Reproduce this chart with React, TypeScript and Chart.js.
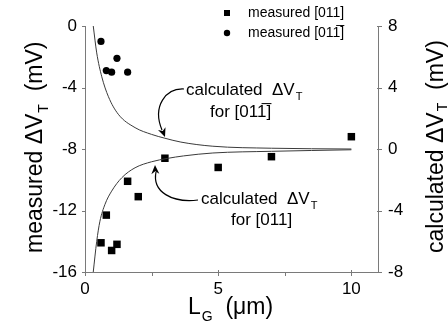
import React, { useEffect, useRef } from "react";
import { Chart, registerables } from "chart.js";

Chart.register(...registerables);

// measured [011] (left axis, mV)
const measured011X = [0.6, 0.8, 1.0, 1.2, 1.6, 2.0, 3.0, 5.0, 7.0, 10.0];
const measured011Y = [-14.1, -12.3, -14.6, -14.2, -10.1, -11.1, -8.6, -9.2, -8.5, -7.2];
// measured [01-1] (left axis, mV)
const measured01bX = [0.6, 0.8, 1.0, 1.2, 1.6];
const measured01bY = [-1.0, -2.9, -3.0, -2.1, -3.0];
// calculated [01-1] (right axis, mV)
const calcUpperX = [0.31, 0.44, 0.63, 0.88, 1.25, 1.88, 2.5, 3.0, 3.6, 4.8, 7.0, 10.0];
const calcUpperY = [8.0, 6.25, 4.7, 3.4, 2.26, 1.39, 0.95, 0.7, 0.45, 0.18, 0.05, 0.0];
// calculated [011] (right axis, mV)
const calcLowerX = [0.31, 0.44, 0.56, 0.75, 1.0, 1.38, 1.88, 2.5, 3.1, 3.7, 4.8, 7.0, 10.0];
const calcLowerY = [-8.0, -6.0, -4.7, -3.6, -2.74, -1.87, -1.22, -0.83, -0.61, -0.45, -0.26, -0.15, -0.05];

const xTicks = [0, 5, 10];
const xMinorTicks = [2.5, 7.5];
const leftTicks = [0, -4, -8, -12, -16];
const rightTicks = [8, 4, 0, -4, -8];

const legendLabels = ["measured [011]", "measured [011\u0305]"];

const FONT = '"Liberation Sans", Arial, Helvetica, sans-serif';
const AXIS_COLOR = "#7a7a7a";

const toPts = (xs: number[], ys: number[]) => xs.map((x, i) => ({ x, y: ys[i] }));

function arrowHead(ctx: CanvasRenderingContext2D, fx: number, fy: number, tx: number, ty: number) {
  const a = Math.atan2(ty - fy, tx - fx);
  const len = 9;
  const w = 4;
  ctx.beginPath();
  ctx.moveTo(tx, ty);
  ctx.lineTo(tx - len * Math.cos(a) + w * Math.sin(a), ty - len * Math.sin(a) - w * Math.cos(a));
  ctx.lineTo(tx - len * 0.7 * Math.cos(a), ty - len * 0.7 * Math.sin(a));
  ctx.lineTo(tx - len * Math.cos(a) - w * Math.sin(a), ty - len * Math.sin(a) + w * Math.cos(a));
  ctx.closePath();
  ctx.fill();
}

function drawSubText(
  ctx: CanvasRenderingContext2D,
  x: number,
  y: number,
  main: string,
  sub: string,
  rest: string,
  size: number,
  subSize: number,
  subDrop: number
) {
  ctx.font = `${size}px ${FONT}`;
  ctx.fillText(main, x, y);
  let cx = x + ctx.measureText(main).width;
  ctx.font = `${subSize}px ${FONT}`;
  ctx.fillText(sub, cx + 1, y + subDrop);
  cx += ctx.measureText(sub).width + 1;
  ctx.font = `${size}px ${FONT}`;
  ctx.fillText(rest, cx, y);
  return cx + ctx.measureText(rest).width;
}

const decorPlugin = {
  id: "decor",
  afterDraw(chart: any) {
    const ctx: CanvasRenderingContext2D = chart.ctx;
    const { left, right, top, bottom } = chart.chartArea;
    const sx = chart.scales.x;
    const sy = chart.scales.y;
    const sy2 = chart.scales.y2;
    ctx.save();

    ctx.strokeStyle = AXIS_COLOR;
    ctx.lineWidth = 1;
    ctx.beginPath();
    ctx.moveTo(left + 0.5, top);
    ctx.lineTo(left + 0.5, bottom + 0.5);
    ctx.lineTo(right + 0.5, bottom + 0.5);
    ctx.lineTo(right + 0.5, top);
    ctx.stroke();

    ctx.beginPath();
    leftTicks.forEach((v) => {
      const py = Math.round(sy.getPixelForValue(v)) + 0.5;
      ctx.moveTo(left - 3, py);
      ctx.lineTo(left + 0.5, py);
    });
    rightTicks.forEach((v) => {
      const py = Math.round(sy2.getPixelForValue(v)) + 0.5;
      ctx.moveTo(right - 1, py);
      ctx.lineTo(right + 4, py);
    });
    xTicks.forEach((v) => {
      const px = Math.round(sx.getPixelForValue(v)) + 0.5;
      ctx.moveTo(px, bottom - 2);
      ctx.lineTo(px, bottom + 4);
    });
    xMinorTicks.forEach((v) => {
      const px = Math.round(sx.getPixelForValue(v)) + 0.5;
      ctx.moveTo(px, bottom + 1);
      ctx.lineTo(px, bottom + 4);
    });
    ctx.stroke();

    ctx.fillStyle = "#000";
    ctx.font = `17px ${FONT}`;
    ctx.textBaseline = "middle";
    ctx.textAlign = "right";
    leftTicks.forEach((v) => ctx.fillText(String(v), left - 8, sy.getPixelForValue(v)));
    ctx.textAlign = "left";
    rightTicks.forEach((v) => ctx.fillText(String(v), right + 10, sy2.getPixelForValue(v)));
    ctx.textAlign = "center";
    ctx.textBaseline = "top";
    xTicks.forEach((v) => ctx.fillText(String(v), sx.getPixelForValue(v), bottom + 9));

    ctx.textAlign = "left";
    ctx.textBaseline = "alphabetic";
    drawSubText(ctx, 188, 314, "L", "G", "  (\u03bcm)", 23, 14, 7);

    ctx.save();
    ctx.translate(42, 253);
    ctx.rotate(-Math.PI / 2);
    drawSubText(ctx, 0, 0, "measured \u0394V", "T", "  (mV)", 23, 14, 6);
    ctx.restore();

    ctx.save();
    ctx.translate(443, 253);
    ctx.rotate(-Math.PI / 2);
    drawSubText(ctx, 0, 0, "calculated \u0394V", "T", "  (mV)", 23, 14, 4);
    ctx.restore();

    ctx.fillStyle = "#000";
    ctx.fillRect(224, 10, 6, 6);
    ctx.beginPath();
    ctx.arc(227, 33, 3.2, 0, Math.PI * 2);
    ctx.fill();
    ctx.font = `14px ${FONT}`;
    ctx.textBaseline = "middle";
    ctx.fillText(legendLabels[0], 248, 13);
    ctx.fillText(legendLabels[1], 248, 33);

    ctx.textBaseline = "alphabetic";
    drawSubText(ctx, 186, 95, "calculated  \u0394V", "T", "", 17, 11, 5);
    ctx.font = `17px ${FONT}`;
    ctx.fillText("for [011\u0305]", 210, 117);

    drawSubText(ctx, 201, 204, "calculated  \u0394V", "T", "", 17, 11, 5);
    ctx.font = `17px ${FONT}`;
    ctx.fillText("for [011]", 231, 225);

    ctx.strokeStyle = "#000";
    ctx.lineWidth = 1.2;
    ctx.beginPath();
    ctx.moveTo(184, 89);
    ctx.bezierCurveTo(166, 88, 152, 106, 162, 130);
    ctx.stroke();
    arrowHead(ctx, 160, 124, 165, 137);

    ctx.beginPath();
    ctx.moveTo(198, 200);
    ctx.bezierCurveTo(172, 203, 152, 192, 156, 172);
    ctx.stroke();
    arrowHead(ctx, 155.5, 178, 155, 165);

    ctx.restore();
  },
};

export default function App() {
  const ref = useRef<HTMLCanvasElement | null>(null);
  useEffect(() => {
    if (!ref.current) return;
    const chart = new Chart(ref.current, {
      type: "scatter",
      data: {
        datasets: [
          {
            label: "calculated [01-1]",
            data: toPts(calcUpperX, calcUpperY),
            yAxisID: "y2",
            showLine: true,
            borderColor: "#3a3a3a",
            borderWidth: 1,
            pointRadius: 0,
            cubicInterpolationMode: "monotone",
          },
          {
            label: "calculated [011]",
            data: toPts(calcLowerX, calcLowerY),
            yAxisID: "y2",
            showLine: true,
            borderColor: "#3a3a3a",
            borderWidth: 1,
            pointRadius: 0,
            cubicInterpolationMode: "monotone",
          },
          {
            label: legendLabels[0],
            data: toPts(measured011X, measured011Y),
            yAxisID: "y",
            pointStyle: "rect",
            pointRadius: 5.3,
            backgroundColor: "#000",
            borderColor: "#000",
            borderWidth: 0,
          },
          {
            label: legendLabels[1],
            data: toPts(measured01bX, measured01bY),
            yAxisID: "y",
            pointStyle: "circle",
            pointRadius: 3.6,
            backgroundColor: "#000",
            borderColor: "#000",
            borderWidth: 0,
          },
        ],
      },
      options: {
        animation: false,
        responsive: false,
        devicePixelRatio: 1,
        layout: { padding: { left: 85, right: 70, top: 26, bottom: 57 } },
        plugins: { legend: { display: false }, tooltip: { enabled: false } },
        scales: {
          x: { type: "linear", min: 0, max: 11, display: false },
          y: { type: "linear", min: -16, max: 0, display: false },
          y2: { type: "linear", min: -8, max: 8, display: false, position: "right" },
        },
      },
      plugins: [decorPlugin],
    } as any);
    return () => chart.destroy();
  }, []);
  return (
    <div style={{ position: "absolute", left: 0, top: 0, width: 448, height: 329, background: "#fff" }}>
      <canvas ref={ref} width={448} height={329} />
    </div>
  );
}
